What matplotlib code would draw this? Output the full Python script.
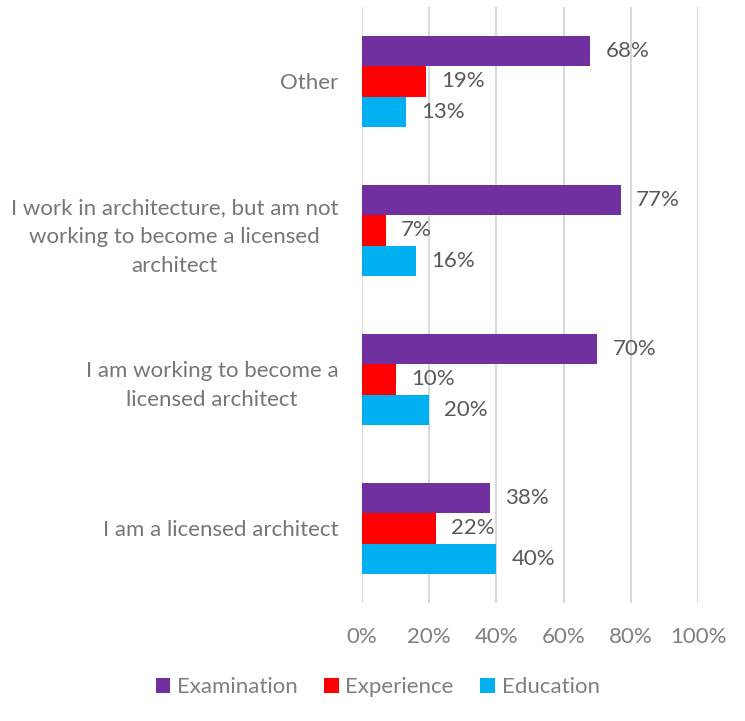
import matplotlib
matplotlib.use("Agg")
import matplotlib.pyplot as plt
import numpy as np

categories = [
    "I am a licensed architect",
    "I am working to become a\nlicensed architect",
    "I work in architecture, but am not\nworking to become a licensed\narchitect",
    "Other",
]
examination = [38, 70, 77, 68]
experience = [22, 10, 7, 19]
education = [40, 20, 16, 13]
series_names = ["Examination", "Experience", "Education"]
series_colors = ["#7030A0", "#FF0000", "#00B0F0"]
x_ticks = [0, 20, 40, 60, 80, 100]

plt.rcParams["font.family"] = ["Lato", "DejaVu Sans"]
FS = 16

fig = plt.figure(figsize=(7.45, 7.21), dpi=100)
ax = fig.add_axes([0.4859, 0.1637, 0.4510, 0.8266])

y = np.arange(len(categories))
h = 0.205
series = [examination, experience, education]
offsets = [h, 0, -h]
for vals, name, col, off in zip(series, series_names, series_colors, offsets):
    bars = ax.barh(y + off, vals, height=h, color=col, label=name, zorder=3)
    ax.bar_label(bars, labels=[f"{v}%" for v in vals], padding=11,
                 fontsize=FS, color="#595959")

ax.set_xlim(0, 100)
ax.set_ylim(-0.5, 3.5)
ax.set_xticks(x_ticks)
ax.set_xticklabels([f"{t}%" for t in x_ticks], fontsize=FS, color="#7F7F7F")
ax.set_yticks(y)
ax.set_yticklabels(categories, fontsize=FS, color="#767676",
                   multialignment="center", linespacing=1.55)
ax.tick_params(axis="x", length=0, pad=17)
ax.tick_params(axis="y", length=0, pad=17)
ax.grid(axis="x", color="#D9D9D9", linewidth=1.5, zorder=0)
for s in ax.spines.values():
    s.set_visible(False)

handles, labels = ax.get_legend_handles_labels()
leg = fig.legend(handles, labels, loc="center", ncol=3,
                 bbox_to_anchor=(0.507, 1 - 687 / 721), frameon=False,
                 fontsize=FS, handlelength=0.65, handleheight=0.65,
                 handletextpad=0.3, columnspacing=1.2)
for t in leg.get_texts():
    t.set_color("#7F7F7F")

fig.savefig("out.png", dpi=100)
